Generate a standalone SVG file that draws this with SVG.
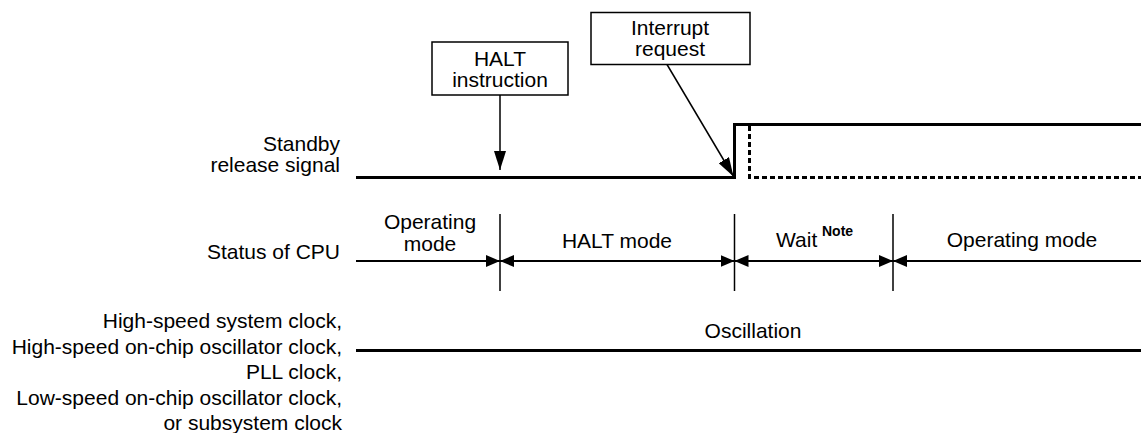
<svg xmlns="http://www.w3.org/2000/svg" width="1141" height="433" viewBox="0 0 1141 433">
<style>
text{font-family:"Liberation Sans",Arial,sans-serif;font-size:21px;fill:#000}
.r{text-anchor:end}
.m{text-anchor:middle}
.sig{stroke:#000;stroke-width:3;fill:none}
.dash{stroke:#000;stroke-width:3;fill:none;stroke-dasharray:5 3}
.box{fill:#fff;stroke:#000;stroke-width:1.5}
.tick{stroke:#000;stroke-width:1.5}
.dim{stroke:#000;stroke-width:2;fill:none}
.ptr{stroke:#000;stroke-width:1.5;fill:none}
.note{font-size:14px;font-weight:bold}
</style>
<defs>
<marker id="ah" viewBox="0 0 14 12" refX="14" refY="6" markerWidth="14" markerHeight="12" markerUnits="userSpaceOnUse" orient="auto-start-reverse"><path d="M0,0 L14,6 L0,12 z" fill="#000"/></marker>
<marker id="ap" viewBox="0 0 19 12" refX="19" refY="6" markerWidth="19" markerHeight="12" markerUnits="userSpaceOnUse" orient="auto"><path d="M0,0 L19,6 L0,12 z" fill="#000"/></marker>
</defs>

<g id="labels">
<text class="r" x="340" y="151">Standby</text>
<text class="r" x="340" y="172">release signal</text>
<text class="r" x="340" y="259">Status of CPU</text>
<text class="r" x="342" y="328">High-speed system clock,</text>
<text class="r" x="342" y="354">High-speed on-chip oscillator clock,</text>
<text class="r" x="342" y="379">PLL clock,</text>
<text class="r" x="342" y="405">Low-speed on-chip oscillator clock,</text>
<text class="r" x="342" y="430">or subsystem clock</text>
</g>

<g id="halt-instruction">
<rect class="box" x="432" y="42" width="136" height="53"/>
<text class="m" x="500" y="66">HALT</text>
<text class="m" x="500" y="87">instruction</text>
</g>

<g id="interrupt-request">
<rect class="box" x="591" y="12.5" width="159" height="52"/>
<text class="m" x="670" y="34.5">Interrupt</text>
<text class="m" x="670" y="56">request</text>
</g>

<g id="standby-signal">
<path class="sig" d="M356,177.5 H734.5 V124.5 H1141"/>
<path class="dash" d="M749.5,126 V177.5 H1141"/>
</g>

<g id="cpu-status">
<line class="tick" x1="500" y1="214" x2="500" y2="291"/>
<line class="tick" x1="734.5" y1="214" x2="734.5" y2="291"/>
<line class="tick" x1="893" y1="214" x2="893" y2="291"/>
<text class="m" x="430" y="229">Operating</text>
<text class="m" x="430" y="251">mode</text>
<text class="m" x="617" y="248">HALT mode</text>
<text x="776" y="247">Wait</text>
<text class="note" x="822" y="236">Note</text>
<text class="m" x="1022" y="247">Operating mode</text>
</g>

<g id="clock-status">
<line class="sig" x1="356" y1="350.5" x2="1141" y2="350.5"/>
<text class="m" x="753" y="338">Oscillation</text>
</g>

<g id="connectors">
<line class="ptr" x1="500" y1="95" x2="500" y2="170" marker-end="url(#ap)"/>
<line class="ptr" x1="667" y1="64.5" x2="733.5" y2="176.5" marker-end="url(#ap)"/>
<line class="dim" x1="356" y1="261" x2="500" y2="261" marker-end="url(#ah)"/>
<line class="dim" x1="500" y1="261" x2="734.5" y2="261" marker-start="url(#ah)" marker-end="url(#ah)"/>
<line class="dim" x1="734.5" y1="261" x2="893" y2="261" marker-start="url(#ah)" marker-end="url(#ah)"/>
<line class="dim" x1="893" y1="261" x2="1141" y2="261" marker-start="url(#ah)"/>
</g>
</svg>
